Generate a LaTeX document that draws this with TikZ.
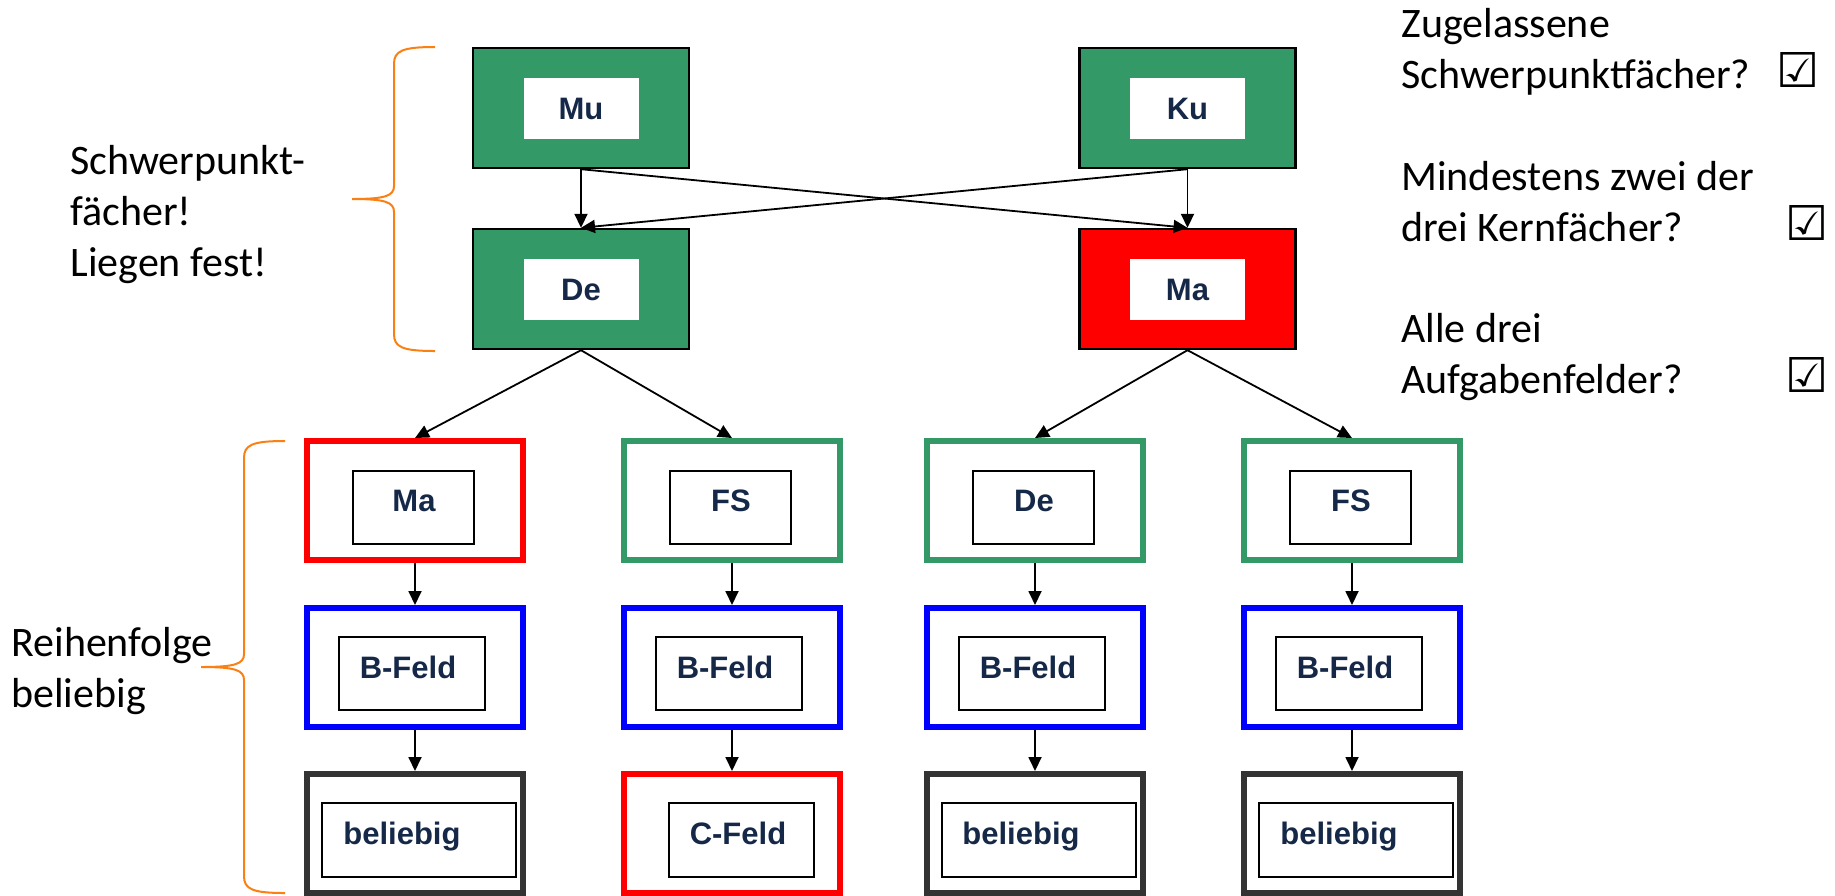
\documentclass[tikz,border=0pt]{standalone}
\usepackage{fontspec}
\setmainfont{Carlito}
\newfontfamily\boxfont{Liberation Sans}
\newfontfamily\symfont{DejaVu Sans}
\usetikzlibrary{arrows.meta}
\definecolor{sgreen}{RGB}{51,153,102}
\definecolor{sred}{RGB}{255,0,0}
\definecolor{sblue}{RGB}{0,0,255}
\definecolor{sdark}{RGB}{51,51,51}
\definecolor{snavy}{RGB}{22,40,72}
\definecolor{sorange}{RGB}{250,128,20}
\tikzset{
  topbox/.style={draw=black, line width=1.2pt, minimum width=108pt, minimum height=60pt, inner sep=0pt},
  topinner/.style={fill=white, minimum width=57.5pt, minimum height=30.5pt, inner sep=0pt},
  lowbox/.style={draw=#1, line width=3pt, minimum width=108pt, minimum height=59.5pt, inner sep=0pt, fill=white},
  thinbox/.style={draw=black, line width=1pt, minimum height=36.5pt, minimum width=#1, inner sep=0pt},
  boxlabel/.style={font=\boxfont\bfseries\fontsize{15.5}{18}\selectfont, text=snavy, inner sep=0pt, anchor=base},
  boxlabelw/.style={boxlabel, anchor=base west},
  notetext/.style={font=\fontsize{21}{25.5}\selectfont, align=left, inner sep=0pt, anchor=base west},
  checkmark/.style={font=\symfont\fontsize{24}{26}\selectfont, inner sep=0pt, anchor=base west},
  conn/.style={line width=0.9pt, -{Triangle[length=7pt,width=6.5pt]}},
  bracestyle/.style={draw=sorange, line width=1pt},
}
\begin{document}
\begin{tikzpicture}[x=0.5pt, y=-0.5pt]
\path[fill=white, use as bounding box] (0,0) rectangle (1835,895);

% top level
\node[topbox, fill=sgreen] (mu) at (581,108) {};
\node[topinner] (muin) at (mu.center) {};
\node[boxlabel] (mutx) at (581,119) {Mu};
\node[topbox, fill=sgreen] (ku) at (1187.5,108) {};
\node[topinner] (kuin) at (ku.center) {};
\node[boxlabel] (kutx) at (1187.5,119) {Ku};
\node[topbox, fill=sgreen] (de) at (581,289) {};
\node[topinner] (dein) at (de.center) {};
\node[boxlabel] (detx) at (581,300) {De};
\node[topbox, fill=sred] (ma) at (1187.5,289) {};
\node[topinner] (main) at (ma.center) {};
\node[boxlabel] (matx) at (1187.5,300) {Ma};

% lower rows: columns 415, 732, 1035, 1352
\node[lowbox=sred]   (r1c1) at (415,500.5) {};
\node[lowbox=sgreen] (r1c2) at (732,500.5) {};
\node[lowbox=sgreen] (r1c3) at (1035,500.5) {};
\node[lowbox=sgreen] (r1c4) at (1352,500.5) {};
\node[lowbox=sblue]  (r2c1) at (415,667.5) {};
\node[lowbox=sblue]  (r2c2) at (732,667.5) {};
\node[lowbox=sblue]  (r2c3) at (1035,667.5) {};
\node[lowbox=sblue]  (r2c4) at (1352,667.5) {};
\node[lowbox=sdark]  (r3c1) at (415,833.5) {};
\node[lowbox=sred]   (r3c2) at (732,833.5) {};
\node[lowbox=sdark]  (r3c3) at (1035,833.5) {};
\node[lowbox=sdark]  (r3c4) at (1352,833.5) {};

% inner frames
\node[thinbox=60.5pt] (i1c1) at (413,507.5) {};
\node[thinbox=60.5pt] (i1c2) at (730,507.5) {};
\node[thinbox=60.5pt] (i1c3) at (1033,507.5) {};
\node[thinbox=60.5pt] (i1c4) at (1350,507.5) {};
\node[thinbox=73pt] (i2c1) at (412,673.5) {};
\node[thinbox=73pt] (i2c2) at (729,673.5) {};
\node[thinbox=73pt] (i2c3) at (1032,673.5) {};
\node[thinbox=73pt] (i2c4) at (1349,673.5) {};
\node[thinbox=97pt, minimum height=37pt] (i3c1) at (418.5,840) {};
\node[thinbox=72.5pt, minimum height=37pt] (i3c2) at (741.5,840) {};
\node[thinbox=97pt, minimum height=37pt] (i3c3) at (1038.5,840) {};
\node[thinbox=97pt, minimum height=37pt] (i3c4) at (1355.5,840) {};

% labels
\node[boxlabel] (l1c1) at (414,511.5) {Ma};
\node[boxlabel] (l1c2) at (731,511.5) {FS};
\node[boxlabel] (l1c3) at (1034,511.5) {De};
\node[boxlabel] (l1c4) at (1351,511.5) {FS};
\node[boxlabel] (l2c1) at (408,678.5) {B-Feld};
\node[boxlabel] (l2c2) at (725,678.5) {B-Feld};
\node[boxlabel] (l2c3) at (1028,678.5) {B-Feld};
\node[boxlabel] (l2c4) at (1345,678.5) {B-Feld};
\node[boxlabelw] (l3c1) at (343,844.5) {beliebig};
\node[boxlabel] (l3c2) at (738,844.5) {C-Feld};
\node[boxlabelw] (l3c3) at (962,844.5) {beliebig};
\node[boxlabelw] (l3c4) at (1280,844.5) {beliebig};

% connectors
\draw[conn] (mu.south) -- (de.north);
\draw[conn] (ku.south) -- (ma.north);
\draw[conn] (mu.south) -- (ma.north);
\draw[conn] (ku.south) -- (de.north);
\draw[conn] (de.south) -- (r1c1.north);
\draw[conn] (de.south) -- (r1c2.north);
\draw[conn] (ma.south) -- (r1c3.north);
\draw[conn] (ma.south) -- (r1c4.north);
\foreach \c in {1,2,3,4}{
  \draw[conn] (r1c\c.south) -- (r2c\c.north);
  \draw[conn] (r2c\c.south) -- (r3c\c.north);
}

% braces
\draw[bracestyle] (435,47) .. controls (402,47) and (394,51) .. (394,64)
  -- (394,186) .. controls (394,196) and (385,199) .. (352,199)
  .. controls (385,199) and (394,202) .. (394,212)
  -- (394,334) .. controls (394,347) and (402,351) .. (435,351);
\draw[bracestyle] (285,441) .. controls (252,441) and (244,445) .. (244,458)
  -- (244,654) .. controls (244,664) and (235,667) .. (201,667)
  .. controls (235,667) and (244,670) .. (244,680)
  -- (244,876) .. controls (244,889) and (252,893) .. (285,893);

% side texts (anchored at the baseline of their last line)
\node[notetext] (lefttop) at (70,276) {Schwerpunkt-\\fächer!\\Liegen fest!};
\node[notetext] (leftbot) at (11,707) {Reihenfolge\\beliebig};
\node[notetext] (q1) at (1401,88) {Zugelassene\\Schwerpunktfächer?};
\node[notetext] (q2) at (1401,241) {Mindestens zwei der\\drei Kernfächer?};
\node[notetext] (q3) at (1401,393) {Alle drei\\Aufgabenfelder?};
\node[checkmark] (c1) at (1776,87) {☑};
\node[checkmark] (c2) at (1785,240) {☑};
\node[checkmark] (c3) at (1785,392) {☑};
\end{tikzpicture}
\end{document}
